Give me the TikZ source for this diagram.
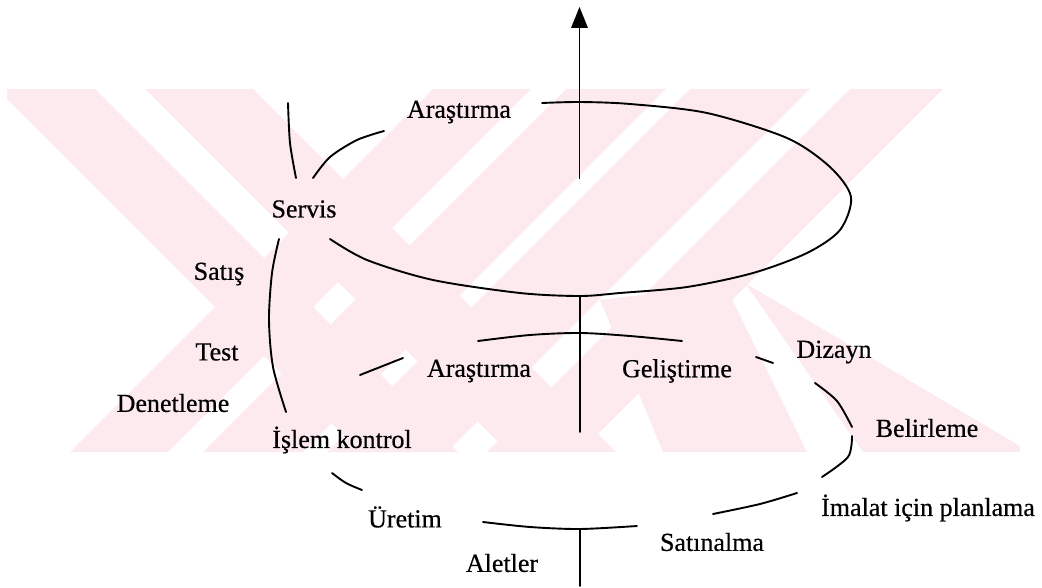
\documentclass[tikz,border=0pt]{standalone}
\usepackage{fontspec}
\setmainfont{Liberation Serif}[BoldFont=Liberation Serif, BoldFeatures={FakeBold=0.5}]
\definecolor{wm}{RGB}{253,234,238}
\tikzset{
  curve/.style={line width=1.9pt, line cap=round},
  lbl/.style={inner sep=0pt, font=\fontsize{26}{28}\selectfont\bfseries},
  band/.style={fill=wm, draw=none}
}
\begin{document}
\begin{tikzpicture}[x=1pt,y=-1pt]
\useasboundingbox (0,0) rectangle (1042,588);
% watermark
\begin{scope}
\clip (7,89) rectangle (1020,452);
\fill[band] (-3,89) -- (95,89) -- (458,452) -- (360,452) -- cycle;
\fill[band] (145,89) -- (253,89) -- (616,452) -- (508,452) -- cycle;
\fill[band] (433,89) -- (531,89) -- (168,452) -- (70,452) -- cycle;
\fill[band] (566,89) -- (666,89) -- (303,452) -- (203,452) -- cycle;
\fill[band] (690,89) -- (810,89) -- (447,452) -- (327,452) -- cycle;
\fill[band] (850,89) -- (943,89) -- (580,452) -- (487,452) -- cycle;
\fill[band] (600,300) -- (725,285) -- (807,452) -- (663,452) -- cycle;
\fill[band] (745,283) -- (1030,452) -- (863,452) -- cycle;
\end{scope}
% labels
\node[lbl] (ar1) at (459,112) {Araştırma};
\node[lbl] (srv) at (304,209) {Servis};
\node[lbl] (sat) at (219,274) {Satış};
\node[lbl] (tst) at (217,352) {Test};
\node[lbl] (den) at (173,403) {Denetleme};
\node[lbl] (isl) at (342,440) {İşlem kontrol};
\node[lbl] (ar2) at (479,371) {Araştırma};
\node[lbl] (gel) at (677,371) {Geliştirme};
\node[lbl] (diz) at (834,352) {Dizayn};
\node[lbl] (bel) at (927,428) {Belirleme};
\node[lbl] (ima) at (928,508) {İmalat için planlama};
\node[lbl] (ure) at (405,517) {Üretim};
\node[lbl] (stn) at (712,542) {Satınalma};
\node[lbl] (alt) at (502,563) {Aletler};
% arrow
\coordinate (tip) at (579.5,7);
\coordinate (abase) at (579.5,28);
\coordinate (astart) at (579.5,179);
\draw[curve, line cap=butt] (astart) -- (abase);
\fill (tip) -- ([xshift=-8.5pt]abase) -- ([xshift=8.5pt]abase) -- cycle;
% upper loop
\draw[curve] plot[smooth] coordinates {(542,103) (580,102) (630,104) (707,113) (787,138) (830,167) (851,197) (840,230) (807,253) (753,273) (687,287) (620,293) (580,296) (520,293) (433,280) (367,260) (330,239)};
\draw[curve] plot[smooth] coordinates {(313,178) (330,157) (357,140) (384,131)};
\draw[curve] plot[smooth] coordinates {(288,103) (290,143) (296,178)};
\draw[curve] plot[smooth] coordinates {(279,239) (272,273) (269,320) (273,367) (286,412)};
% middle
\draw[curve] (580,296) -- (580,432);
\draw[curve] plot[smooth] coordinates {(478,341) (530,335) (580,333) (630,336) (682,341)};
\draw[curve] (360,375) -- (403,358);
\draw[curve] (756,357) -- (773,363);
\draw[curve] plot[smooth] coordinates {(815,383) (837,401) (852,427)};
\draw[curve] plot[smooth] coordinates {(852,436) (848,457) (822,477)};
% bottom
\draw[curve] plot[smooth] coordinates {(797,493) (760,504) (713,514)};
\draw[curve] plot[smooth] coordinates {(483,522) (530,527) (580,529) (637,526)};
\draw[curve] (580,529) -- (580,586);
\draw[curve] plot[smooth] coordinates {(332,473) (346,483) (362,490)};
\end{tikzpicture}
\end{document}
